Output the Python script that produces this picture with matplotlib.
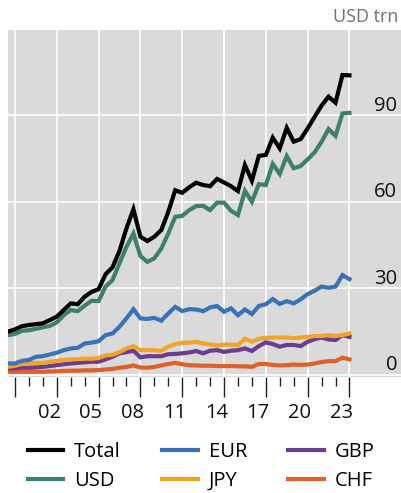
import numpy as np
import matplotlib
matplotlib.use('Agg')
import matplotlib.pyplot as plt
import matplotlib.transforms as mtransforms

plt.rcParams['font.family'] = ['Open Sans', 'DejaVu Sans']

# Semiannual observations, end-June 1999 to end-December 2023
periods = np.arange(1999.5, 2024.01, 0.5)

total = [15.0, 15.8, 16.9, 17.3, 17.6, 17.9, 19.0, 20.2, 22.5, 24.8,
         24.5, 27.1, 28.8, 29.7, 34.9, 37.3, 43.0, 50.8, 57.4, 47.9,
         46.4, 47.9, 50.2, 56.5, 64.0, 63.1, 65.0, 66.6, 65.8, 65.4,
         67.9, 66.7, 65.4, 63.7, 72.7, 67.3, 75.9, 76.2, 82.2, 78.5,
         85.6, 80.8, 81.7, 85.4, 89.4, 93.3, 96.4, 94.3, 103.9, 103.8]
usd = [13.8, 14.2, 15.3, 15.5, 16.0, 16.5, 17.0, 18.2, 20.7, 22.5,
       22.1, 24.0, 25.7, 25.6, 30.6, 32.9, 38.7, 44.4, 49.0, 41.2,
       39.2, 40.4, 43.8, 49.0, 54.8, 55.1, 57.1, 58.5, 58.6, 57.1,
       59.7, 59.7, 56.9, 55.4, 63.8, 60.0, 66.1, 65.8, 73.1, 69.6,
       75.8, 71.6, 72.4, 74.7, 77.1, 80.8, 85.2, 82.8, 90.6, 90.8]
eur = [4.0, 4.0, 4.9, 5.2, 6.3, 6.5, 7.1, 7.7, 8.6, 9.2,
       9.4, 10.9, 11.2, 11.7, 13.8, 14.4, 16.7, 19.6, 22.8, 19.6,
       19.4, 19.8, 18.8, 21.3, 23.6, 22.1, 22.8, 22.7, 22.1, 23.4,
       23.9, 21.9, 23.1, 20.7, 22.7, 21.1, 23.9, 24.5, 26.3, 24.6,
       25.6, 24.8, 26.2, 28.0, 29.2, 30.6, 30.2, 30.6, 34.6, 33.2]
jpy = [2.8, 3.2, 3.8, 4.0, 4.2, 4.2, 4.6, 4.9, 5.2, 5.4,
       5.5, 5.7, 5.6, 5.9, 6.8, 7.0, 7.9, 9.2, 10.0, 8.6,
       8.6, 8.6, 8.4, 9.8, 10.7, 11.2, 11.2, 11.5, 10.9, 10.6,
       10.2, 10.5, 10.5, 10.4, 12.5, 11.5, 12.5, 12.9, 12.9, 13.0,
       13.0, 12.7, 13.0, 13.2, 13.5, 13.5, 13.8, 13.5, 13.8, 14.4]
gbp = [2.3, 2.3, 2.5, 2.5, 2.6, 2.8, 3.1, 3.4, 3.7, 4.0,
       4.2, 4.4, 4.6, 4.6, 5.4, 6.3, 7.5, 7.9, 8.4, 6.1,
       6.5, 6.5, 6.5, 7.2, 7.3, 7.5, 7.8, 8.3, 7.5, 8.4,
       8.6, 8.0, 8.4, 8.6, 9.2, 8.3, 10.0, 11.3, 10.7, 9.8,
       10.4, 10.4, 10.0, 11.5, 12.4, 13.0, 12.3, 12.1, 13.8, 13.2]
chf = [1.1, 1.1, 1.1, 1.1, 1.1, 1.1, 1.2, 1.3, 1.4, 1.5,
       1.5, 1.6, 1.6, 1.7, 1.9, 2.1, 2.5, 2.8, 3.3, 2.6,
       2.5, 2.8, 3.3, 3.8, 4.2, 3.7, 3.4, 3.3, 3.2, 3.2,
       3.1, 3.1, 3.1, 3.0, 3.0, 2.8, 3.8, 3.8, 3.5, 3.3,
       3.4, 3.6, 3.5, 3.6, 4.0, 4.5, 4.8, 4.8, 6.0, 5.4]

series_names = ['Total', 'USD', 'EUR', 'JPY', 'GBP', 'CHF']
series_values = [total, usd, eur, jpy, gbp, chf]
series_colors = ['#000000', '#3f8068', '#3a72b8', '#f0a528', '#6a3d90', '#e0602a']

year_labels = ['02', '05', '08', '11', '14', '17', '20', '23']
label_years = [2002, 2005, 2008, 2011, 2014, 2017, 2020, 2023]
y_ticks = [0, 30, 60, 90]

fig = plt.figure(figsize=(4.01, 4.93), dpi=100)
ax = fig.add_axes([8 / 401, 1 - 377 / 493, 393 / 401, 347 / 493])
ax.set_facecolor('#dadada')
for s in ax.spines.values():
    s.set_visible(False)

ax.set_xlim(1999.5, 2027.7)
ax.set_ylim(-0.7, 119.5)

# Gridlines
for yr in range(2000, 2025, 3):
    ax.axvline(yr, color='white', lw=1.2, zorder=1)
for v in y_ticks:
    ax.axhline(v, color='white', lw=1.2, zorder=1)

# Series, Total drawn on top
order = [5, 4, 3, 2, 1, 0]
lines = {}
for i in order:
    ln, = ax.plot(periods, series_values[i], color=series_colors[i], lw=3.0,
                  solid_joinstyle='miter', zorder=3 + (5 - i))
    lines[i] = ln

# X ticks: long every 3 years, short every year, labels mid-year
ax.set_xticks(list(range(2000, 2025, 3)))
ax.set_xticks(list(range(2000, 2025)), minor=True)
ax.tick_params(axis='x', which='major', length=14.5, width=1.0, color='#222222',
               labelbottom=False)
ax.tick_params(axis='x', which='minor', length=6.5, width=1.0, color='#222222')
ax.set_yticks([])

trans_x = mtransforms.blended_transform_factory(ax.transData, ax.transAxes)
for yr, lab in zip(label_years, year_labels):
    ax.text(yr + 0.45, -0.103, lab, transform=trans_x, ha='center', va='center',
            fontsize=14.5, color='#111111')

trans_y = mtransforms.blended_transform_factory(ax.transAxes, ax.transData)
for v in y_ticks:
    ax.text(0.99, v + 1.6, str(v), transform=trans_y, ha='right', va='baseline',
            fontsize=14.5, color='#111111', zorder=5)

fig.text(398 / 401, 1 - 17 / 493, 'USD trn', ha='right', va='center',
         fontsize=13, color='#707070')

handles = [lines[i] for i in range(6)]
leg = fig.legend(handles, series_names, loc='upper left', ncol=3,
                 bbox_to_anchor=(28 / 401, 1 - 442 / 493), frameon=False,
                 fontsize=14.5, handlelength=1.75, handletextpad=0.55,
                 columnspacing=2.05, labelspacing=0.45, borderpad=0,
                 borderaxespad=0)
for ln in leg.get_lines():
    ln.set_linewidth(3.0)

fig.savefig('out.png', dpi=100)
